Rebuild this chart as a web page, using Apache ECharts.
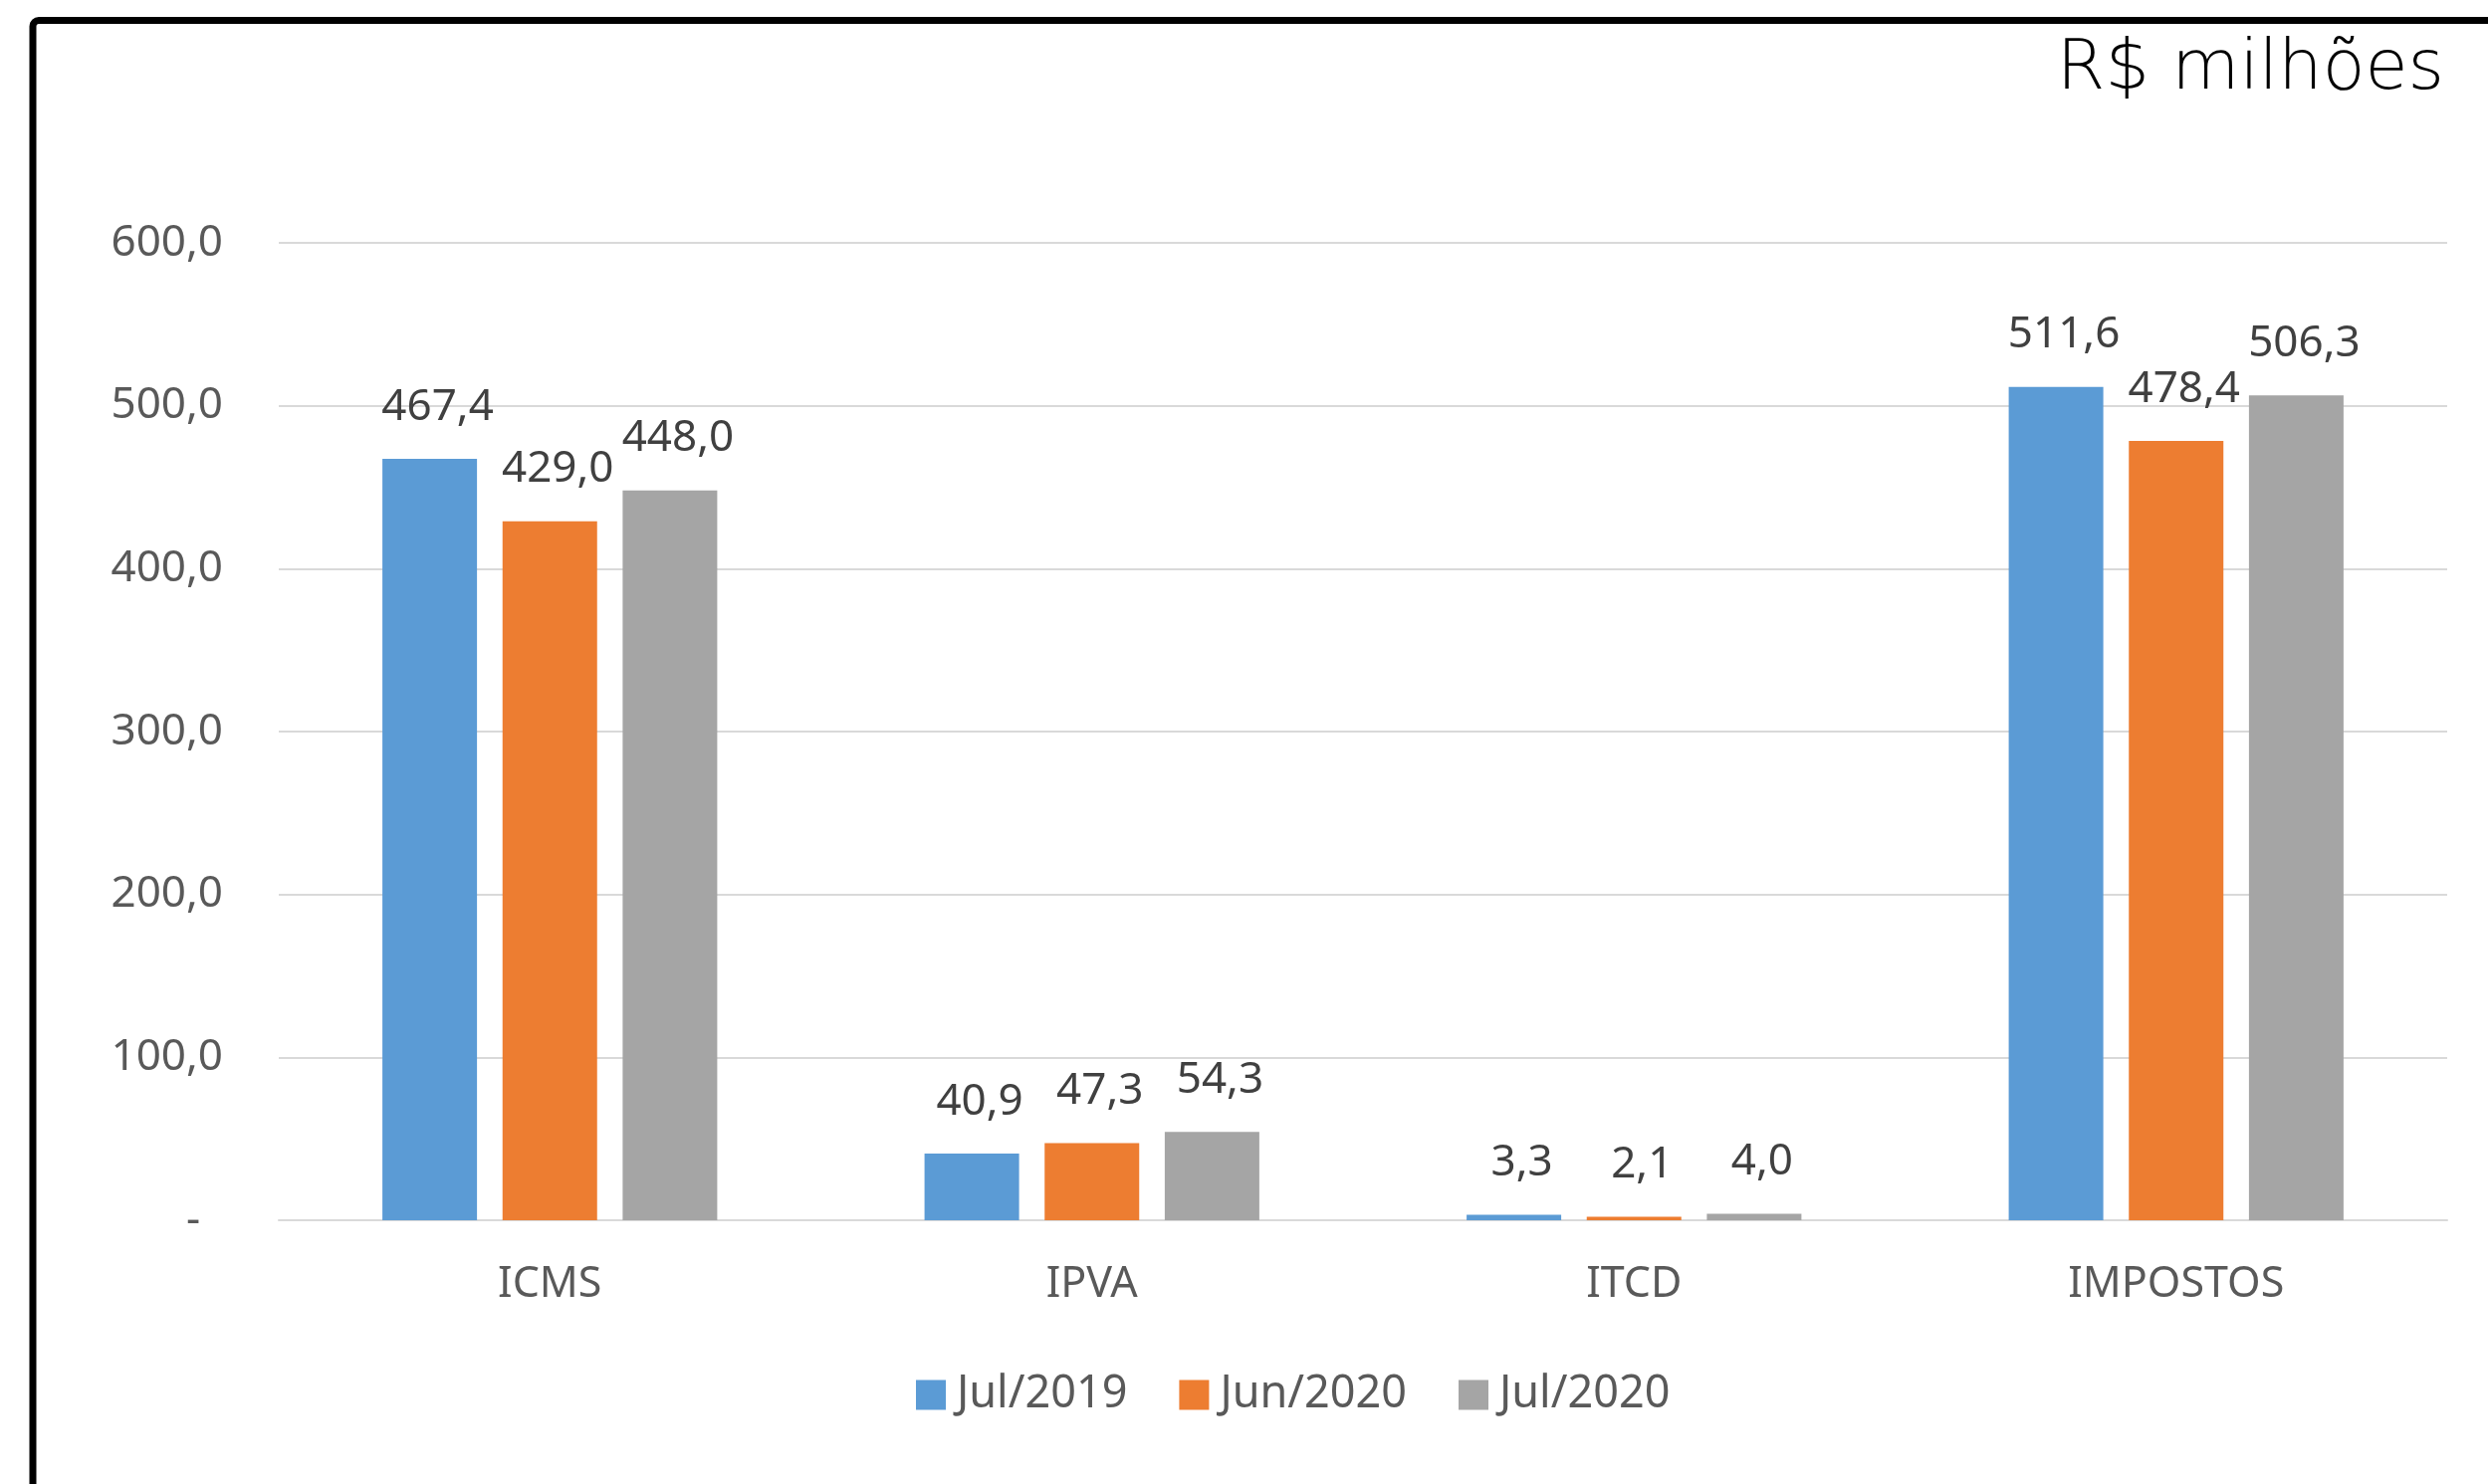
<!DOCTYPE html>
<html>
<head>
<meta charset="utf-8">
<script src="https://cdn.jsdelivr.net/npm/echarts@6/dist/echarts.min.js"></script>
<style>
  html, body { margin: 0; padding: 0; background: #fff; }
  #chart { width: 2499px; height: 1491px; }
</style>
</head>
<body>
<div id="chart"></div>
<script>
// Arrecadação por tributo (R$ milhões)
const categories = ['ICMS', 'IPVA', 'ITCD', 'IMPOSTOS'];
const seriesNames = ['Jul/2019', 'Jun/2020', 'Jul/2020'];
const jul2019 = [467.4, 40.9, 3.3, 511.6];
const jun2020 = [429.0, 47.3, 2.1, 478.4];
const jul2020 = [448.0, 54.3, 4.0, 506.3];
const colors = ['#5B9BD5', '#ED7D31', '#A5A5A5'];
const unitLabel = 'R$ milhões';

const FONT = '"Noto Sans", sans-serif';
const fmt = v => v.toFixed(1).replace('.', ',');

function barSeries(name, data, color) {
  return {
    name: name,
    type: 'bar',
    data: data,
    barWidth: 95,
    barGap: '27%',
    itemStyle: { color: color },
    label: {
      show: true,
      position: 'top',
      distance: 30,
      offset: [8, 0],
      color: '#404040',
      fontFamily: FONT,
      fontSize: 44,
      formatter: p => fmt(p.value)
    }
  };
}

const chart = echarts.init(document.getElementById('chart'));
chart.setOption({
  backgroundColor: '#ffffff',
  animation: false,
  color: colors,
  graphic: [
    {
      type: 'rect',
      shape: { x: 33, y: 20.5, width: 4000, height: 4000, r: 6 },
      style: { fill: 'none', stroke: '#000', lineWidth: 7 },
      z: 100
    },
    {
      type: 'text',
      right: 44,
      top: 36,
      style: {
        text: unitLabel,
        fill: '#000',
        font: '200 70px "DejaVu Sans", sans-serif'
      }
    }
  ],
  grid: { left: 280, right: 41, top: 244, bottom: 265 },
  legend: {
    data: seriesNames,
    left: 915,
    top: 1374,
    itemWidth: 30,
    itemHeight: 30,
    itemGap: 52,
    icon: 'rect',
    textStyle: { color: '#595959', fontFamily: FONT, fontSize: 45, padding: [0, 0, 0, 6] }
  },
  xAxis: {
    type: 'category',
    data: categories,
    axisLine: { show: true, lineStyle: { color: '#d9d9d9', width: 2 } },
    axisTick: { show: false },
    axisLabel: { color: '#595959', fontFamily: FONT, fontSize: 43, margin: 43 }
  },
  yAxis: {
    type: 'value',
    min: 0,
    max: 600,
    interval: 100,
    axisLine: { show: false },
    axisTick: { show: false },
    splitLine: { lineStyle: { color: '#d9d9d9', width: 2 } },
    axisLabel: {
      color: '#595959',
      fontFamily: FONT,
      fontSize: 44,
      margin: 56,
      formatter: v => v === 0 ? '-  ' : fmt(v)
    }
  },
  series: [
    barSeries(seriesNames[0], jul2019, colors[0]),
    barSeries(seriesNames[1], jun2020, colors[1]),
    barSeries(seriesNames[2], jul2020, colors[2])
  ]
});
</script>
</body>
</html>
